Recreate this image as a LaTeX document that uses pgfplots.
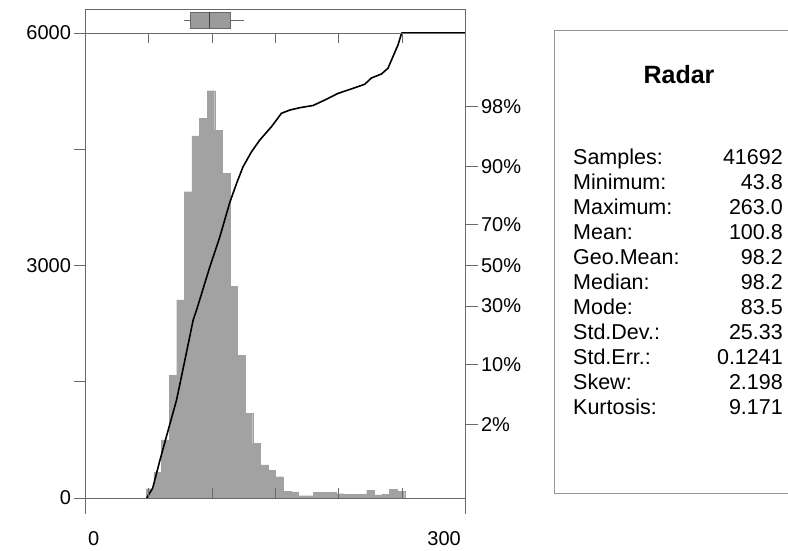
\documentclass[border=0pt]{standalone}
\usepackage{fontspec}
\setmainfont{Liberation Sans}
\usepackage{pgfplots}
\pgfplotsset{compat=1.18}
\usepgfplotslibrary{statistics}

\definecolor{bargray}{RGB}{162,162,162}
\definecolor{framegray}{RGB}{105,105,105}
\definecolor{boxgray}{RGB}{155,155,155}
\definecolor{panelgray}{RGB}{150,150,150}

% histogram: left bin edge (width 6) and count
\pgfplotstableread{
x    n
48   120
54   330
60   750
66   1587
72   2555
78   3952
84   4671
90   4899
96   5256
102  4748
108  4190
114  2735
120  1845
126  1093
132  706
138  426
144  361
150  275
156  85
162  80
168  30
174  30
180  70
186  75
192  70
198  55
204  50
210  50
216  50
222  100
228  40
234  50
240  110
246  90
252  0
}\histdata

% cumulative curve on the probability scale (count units: 3000 + 1000 z)
\pgfplotstableread{
x     y
48.3  0
53.0  125
58.8  490
65.3  877
71.9  1265
79.3  1845
85.0  2297
87.7  2426
98.2  2985
106.1 3372
113.9 3813
119.3 4061
124.4 4275
131.1 4468
137.6 4619
146.8 4791
154.7 4964
161.3 5006
169.2 5036
179.7 5065
190.2 5145
199.1 5219
211.2 5286
220.4 5338
225.7 5419
233.6 5471
238.8 5545
242.7 5694
246.7 5845
249.6 6000
300   6000
}\cdfdata

\pgfplotsset{
  radarframe/.style={
    at={(85.5pt,36.5pt)}, anchor=south west,
    scale only axis, width=380pt, height=503.75pt,
    xmin=0, xmax=300, ymin=-200, ymax=6300,
    axis line style={draw=none},
    xtick=\empty,
    tick align=outside,
    tick style={framegray, line width=0.8pt},
    tick label style={font=\fontsize{20}{24}\selectfont},
  }
}

\begin{document}
\begin{tikzpicture}[x=1pt,y=1pt]
\begin{axis}[
  radarframe,
  ytick={0,1500,3000,4500,6000},
  yticklabels={0,,3000,,6000},
  ytick pos=left,
  major tick length=11pt,
]
  \addplot[ybar interval, fill=bargray, draw=bargray, line width=0.3pt]
    table[x=x, y=n] {\histdata};
  \addplot[black, line width=1.6pt, line join=round] table[x=x, y=y] {\cdfdata};
  \addplot[fill=boxgray, draw=framegray, line width=0.8pt,
    boxplot prepared={
      lower whisker=77.5, lower quartile=83.2, median=98.2,
      upper quartile=114, upper whisker=125,
      draw direction=x, draw position=6165,
      box extend=210, whisker extend=0,
      every median/.style={black!75, line width=1pt},
    }] coordinates {};
  \pgfplotsinvokeforeach{50,100,150,200,250}{
    \draw[framegray, line width=0.8pt] (axis cs:#1,0) -- ++(0pt,10pt);
    \draw[framegray, line width=0.8pt] (axis cs:#1,6000) -- ++(0pt,-10pt);
  }
\end{axis}
\begin{axis}[
  radarframe,
  ytick={946,1718,2476,3000,3524,4282,5054},
  yticklabels={2\%,10\%,30\%,50\%,70\%,90\%,98\%},
  ytick pos=right, yticklabel pos=right,
  major tick length=12pt,
  yticklabel style={anchor=west},
]
\end{axis}

% frame and the two reference lines at 0 and 6000
\draw[framegray, line width=0.9pt] (85.5,36.5) -- (85.5,540.25) -- (465.5,540.25) -- (465.5,36.5);
\draw[framegray, line width=0.9pt] (74.5,52) -- (465.5,52);
\draw[framegray, line width=0.9pt] (74.5,517) -- (465.5,517);

% x range labels
\node[anchor=base west, inner sep=0pt, font=\fontsize{20}{24}\selectfont] at (88,5) {0};
\node[anchor=base east, inner sep=0pt, font=\fontsize{20}{24}\selectfont] at (461,5) {300};

% statistics panel
\draw[panelgray, line width=1pt] (554.5,57) rectangle (820,519.5);
\node[font=\bfseries\fontsize{25}{30}\selectfont] at (679,475) {Radar};
\foreach \lab/\val [count=\i from 0] in {
  Samples:/41692, Minimum:/43.8, Maximum:/263.0, Mean:/100.8,
  Geo.Mean:/98.2, Median:/98.2, Mode:/83.5, Std.Dev.:/25.33,
  Std.Err.:/0.1241, Skew:/2.198, Kurtosis:/9.171} {
  \node[anchor=base west, inner sep=0pt, font=\fontsize{21.5}{24}\selectfont]
    at (573,{385-24.9*\i}) {\lab};
  \node[anchor=base east, inner sep=0pt, font=\fontsize{21.5}{24}\selectfont]
    at (783,{385-24.9*\i}) {\val};
}

\pgfresetboundingbox
\useasboundingbox (0,0) rectangle (788,550);
\end{tikzpicture}
\end{document}
